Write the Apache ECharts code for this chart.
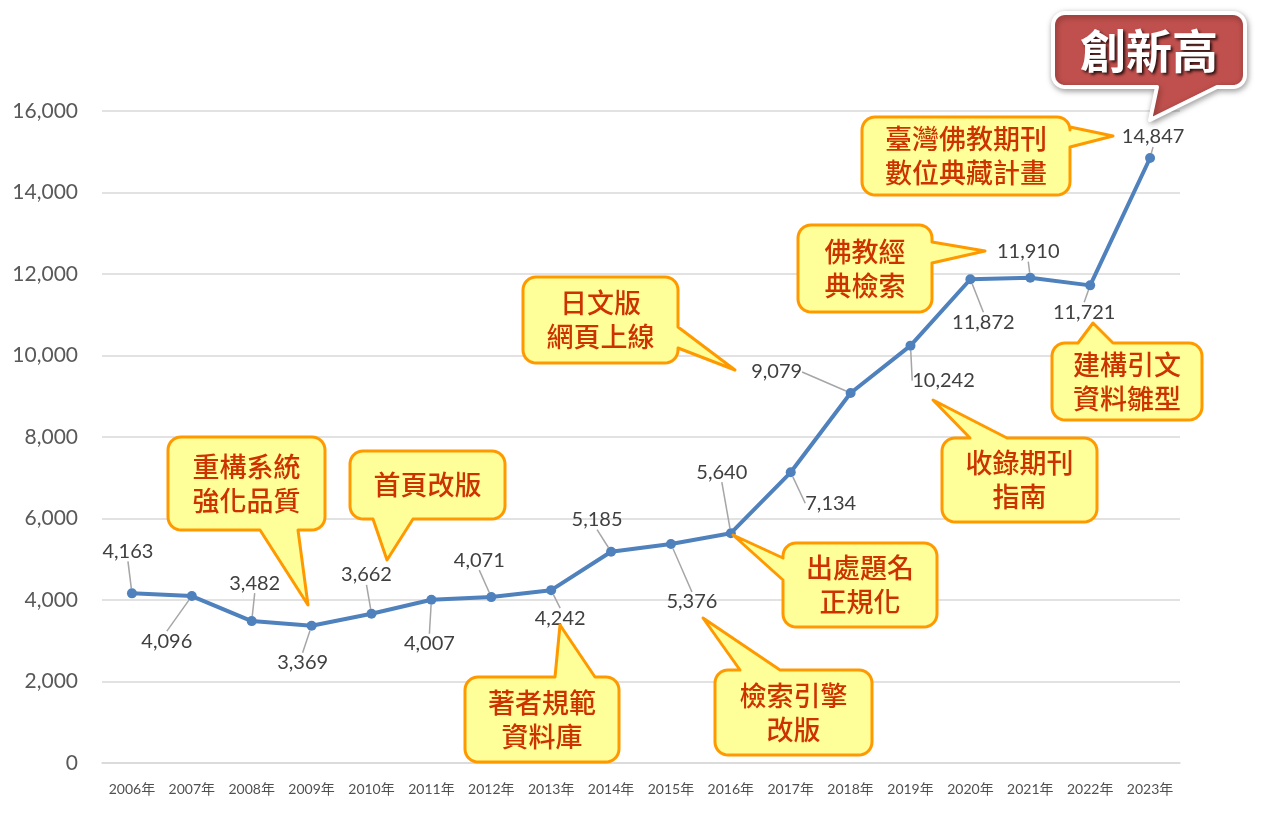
<!DOCTYPE html>
<html>
<head>
<meta charset="utf-8">
<script src="https://cdn.jsdelivr.net/npm/echarts@6/dist/echarts.min.js"></script>
<style>
  html, body { margin: 0; padding: 0; background: #fff; }
  #chart-container { width: 1262px; height: 813px; }
</style>
</head>
<body>
<div id="chart-container"></div>
<script>
const years = ['2006年', '2007年', '2008年', '2009年', '2010年', '2011年', '2012年', '2013年', '2014年',
  '2015年', '2016年', '2017年', '2018年', '2019年', '2020年', '2021年', '2022年', '2023年'];
const counts = [4163, 4096, 3482, 3369, 3662, 4007, 4071, 4242, 5185,
  5376, 5640, 7134, 9079, 10242, 11872, 11910, 11721, 14847];
const yTicks = [0, 2000, 4000, 6000, 8000, 10000, 12000, 14000, 16000];

// where each value label sits, relative to its point (px)
const labelOffsets = [
  [-4, -42], [-25, 45], [3, -38], [-9, 37], [-5, -39], [-2, 44], [-12, -37], [9, 28], [-14, -32],
  [21, 58], [-9, -61], [40, 31], [-74, -21], [33, 35], [13, 43], [-2, -26], [-6, 27], [3, -21]
];

// callouts: box [x1, y1, x2, y2], tail side, tail base [a, b], tail tip [x, y]
const callouts = [
  { text: '重構系統\n強化品質', box: [168, 437, 325, 530], side: 'bottom', base: [260, 298], tip: [308, 605] },
  { text: '首頁改版', box: [350, 451, 505, 519], side: 'bottom', base: [373, 413], tip: [387, 560] },
  { text: '著者規範\n資料庫', box: [465, 677, 619, 762], side: 'top', base: [555, 595], tip: [560, 625] },
  { text: '檢索引擎\n改版', box: [715, 670, 872, 755], side: 'top', base: [740, 780], tip: [703, 618] },
  { text: '出處題名\n正規化', box: [783, 543, 937, 627], side: 'left', base: [558, 580], tip: [733, 535] },
  { text: '日文版\n網頁上線', box: [523, 277, 678, 363], side: 'right', base: [327, 348], tip: [735, 370] },
  { text: '佛教經\n典檢索', box: [798, 225, 932, 312], side: 'right', base: [242, 263], tip: [985, 251] },
  { text: '收錄期刊\n指南', box: [942, 438, 1097, 522], side: 'top', base: [970, 1007], tip: [933, 400] },
  { text: '建構引文\n資料雛型', box: [1052, 343, 1202, 420], side: 'top', base: [1078, 1113], tip: [1093, 323] },
  { text: '臺灣佛教期刊\n數位典藏計畫', box: [862, 117, 1070, 195], side: 'right', base: [127, 147], tip: [1113, 136] }
];
const peakCallout = { text: '創新高', box: [1053, 13, 1245, 87], side: 'bottom', base: [1157, 1217], tip: [1150, 120] };

// rounded box + tail as one outline (polygon points, clockwise)
function calloutPoints(c, r) {
  const [x1, y1, x2, y2] = c.box;
  const [a, b] = c.base;
  const pts = [];
  const corner = (cx, cy, a0) => {
    for (let i = 0; i <= 8; i++) {
      const t = (a0 + i * 90 / 8) * Math.PI / 180;
      pts.push([cx + r * Math.cos(t), cy + r * Math.sin(t)]);
    }
  };
  corner(x1 + r, y1 + r, 180);
  if (c.side === 'top') pts.push([a, y1], c.tip, [b, y1]);
  corner(x2 - r, y1 + r, 270);
  if (c.side === 'right') pts.push([x2, a], c.tip, [x2, b]);
  corner(x2 - r, y2 - r, 0);
  if (c.side === 'bottom') pts.push([b, y2], c.tip, [a, y2]);
  corner(x1 + r, y2 - r, 90);
  if (c.side === 'left') pts.push([x1, b], c.tip, [x1, a]);
  return pts;
}

const fmt = v => Number(v).toLocaleString('en-US');

let graphics = [];
callouts.forEach(c => {
  graphics.push({
    type: 'polygon',
    z: 100,
    shape: { points: calloutPoints(c, 13) },
    style: { fill: '#ffff99', stroke: '#ff9900', lineWidth: 3, lineJoin: 'round' }
  });
  graphics.push({
    type: 'text',
    z: 101,
    x: (c.box[0] + c.box[2]) / 2,
    y: (c.box[1] + c.box[3]) / 2,
    style: {
      text: c.text,
      fill: '#cc3300',
      font: '500 27px "Noto Sans CJK TC"',
      lineHeight: 34,
      align: 'center',
      verticalAlign: 'middle'
    }
  });
});
graphics.push({
  type: 'polygon',
  z: 100,
  shape: { points: calloutPoints(peakCallout, 12) },
  style: {
    fill: '#c0504d', stroke: '#ffffff', lineWidth: 4, lineJoin: 'round',
    shadowBlur: 6, shadowColor: 'rgba(0,0,0,0.35)', shadowOffsetX: 1, shadowOffsetY: 2
  }
});
graphics.push({
  type: 'text',
  z: 101,
  x: (peakCallout.box[0] + peakCallout.box[2]) / 2,
  y: (peakCallout.box[1] + peakCallout.box[3]) / 2 + 1,
  style: {
    text: peakCallout.text,
    fill: '#ffffff',
    font: 'bold 46px "Noto Sans CJK TC"',
    align: 'center',
    verticalAlign: 'middle',
    textShadowColor: 'rgba(0,0,0,0.8)',
    textShadowBlur: 3,
    textShadowOffsetX: 2,
    textShadowOffsetY: 2
  }
});

let myChart = echarts.init(document.getElementById('chart-container'), null, { renderer: 'canvas' });

const opciones = {
  animation: false,
  grid: { left: 102, right: 82, top: 111, bottom: 50, containLabel: false },
  xAxis: {
    type: 'category',
    data: years,
    boundaryGap: true,
    axisLine: { show: true, lineStyle: { color: '#d9d9d9', width: 1.5 } },
    axisTick: { show: false },
    axisLabel: {
      color: '#505050',
      fontSize: 14,
      fontFamily: 'Lato, "Noto Sans CJK TC"',
      margin: 19,
      interval: 0
    }
  },
  yAxis: {
    type: 'value',
    min: yTicks[0],
    max: yTicks[yTicks.length - 1],
    interval: yTicks[1] - yTicks[0],
    axisLine: { show: false },
    axisTick: { show: false },
    splitLine: { lineStyle: { color: '#d9d9d9', width: 1.5 } },
    axisLabel: {
      color: '#595959',
      fontSize: 21,
      fontFamily: 'Lato',
      margin: 24,
      formatter: fmt
    }
  },
  series: [{
    type: 'line',
    data: counts,
    symbol: 'circle',
    symbolSize: 10,
    lineStyle: { color: '#4f81bd', width: 4 },
    itemStyle: { color: '#4f81bd' },
    label: {
      show: true,
      position: 'inside',
      color: '#404040',
      fontSize: 20,
      fontFamily: 'Lato',
      formatter: p => fmt(p.value)
    },
    labelLine: {
      show: true,
      lineStyle: { color: '#a6a6a6', width: 1.5 }
    },
    labelLayout: p => ({ dx: labelOffsets[p.dataIndex][0], dy: labelOffsets[p.dataIndex][1] })
  }],
  graphic: graphics
};

myChart.setOption(opciones);
window.addEventListener('resize', myChart.resize);
</script>
</body>
</html>
